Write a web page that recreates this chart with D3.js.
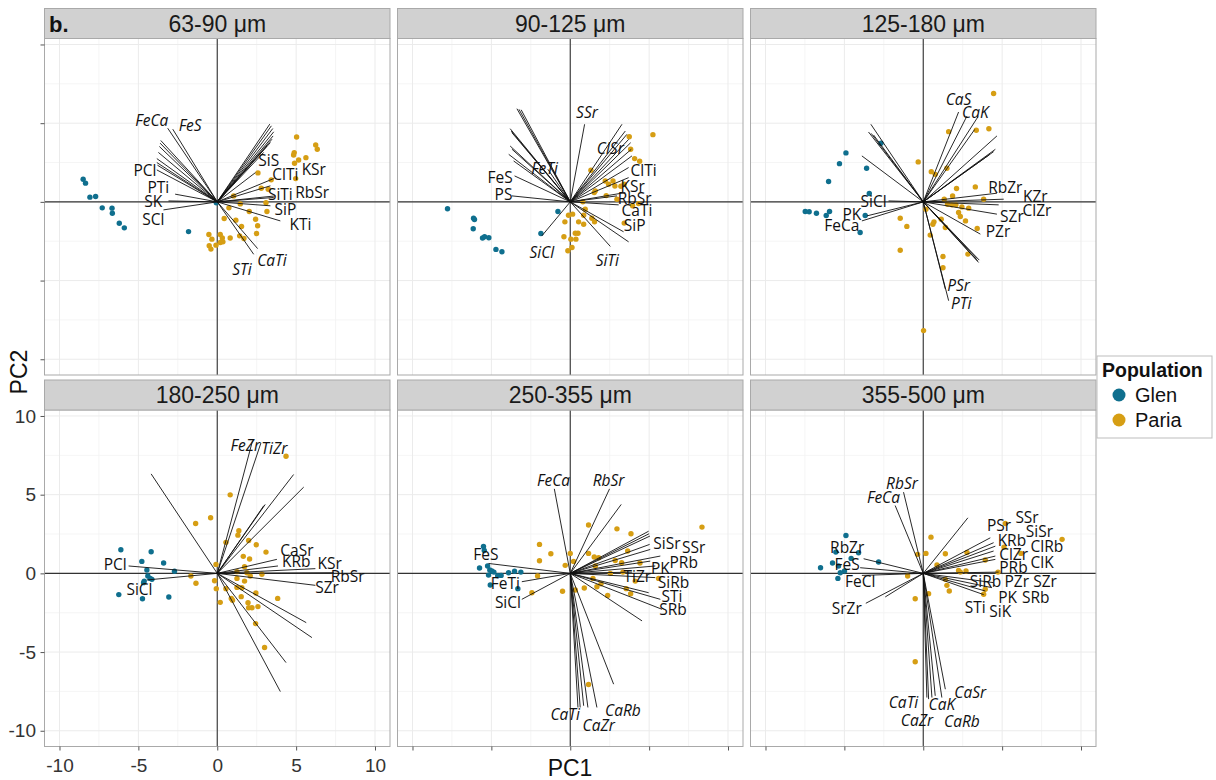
<!DOCTYPE html>
<html><head><meta charset="utf-8">
<script src="https://cdn.jsdelivr.net/npm/d3@7"></script>
<style>body{margin:0;background:#fff}</style>
</head><body>
<svg id="c" width="1216" height="780"></svg>
<script>
// ---------- data ----------
const sizeBins = ["63-90 μm","90-125 μm","125-180 μm","180-250 μm","250-355 μm","355-500 μm"];
const populations = ["Glen","Paria"];
const popColors = ["#0f6f8e","#d69e14"];
const axisTicks = [-10,-5,0,5,10];
const minorTicks = [-7.5,-2.5,2.5,7.5];

const glen1 = [[-8.50,1.44],[-8.35,1.19],[-8.07,0.30],[-7.71,0.34],[-7.29,-0.38],[-6.67,-0.40],[-6.65,-0.72],[-6.21,-1.36],[-5.89,-1.65],[-1.82,-1.89],[-0.06,-0.06]];
const paria1 = [[5.03,4.12],[6.24,3.62],[6.34,3.34],[4.88,3.13],[4.84,2.98],[5.62,2.81],[5.16,2.66],[4.90,2.45],[2.58,1.84],[3.42,1.40],[4.97,1.48],[2.79,0.87],[3.23,0.80],[1.04,0.38],[1.46,-0.13],[3.09,-0.06],[2.03,-0.61],[3.15,-0.61],[0.44,-1.06],[1.18,-1.16],[2.43,-1.10],[1.54,-1.56],[2.56,-1.52],[2.49,-2.01],[-0.53,-2.07],[0.19,-2.07],[-0.34,-2.37],[0.32,-2.30],[0.82,-2.30],[1.42,-2.16],[1.69,-2.33],[-0.51,-2.79],[-0.40,-3.00],[-0.08,-2.75],[0.19,-2.58],[0.36,-2.54],[0.74,-0.38]];
const load1 = [[-3.14,4.68],[-2.82,4.62],[-3.58,3.90],[-3.62,3.73],[-3.67,3.52],[-3.73,3.14],[-3.83,2.75],[-3.83,2.50],[-3.79,2.33],[-3.83,2.03],[-2.67,0.49],[-3.09,0.06],[-3.41,-0.51],[3.33,4.94],[3.43,4.83],[3.52,4.66],[3.58,4.45],[3.54,4.19],[3.47,3.98],[3.37,3.77],[3.16,3.56],[2.94,3.14],[2.42,1.86],[3.58,1.48],[3.37,1.02],[3.69,0.38],[3.58,0.28],[3.37,-0.25],[4.00,-1.21],[2.56,-2.97],[2.31,-3.33]];
const lab1 = [["FeCa",-4.15,5.15,1],["FeS",-1.72,4.87,1],["PCl",-4.58,1.97,0],["PTi",-3.73,0.91,0],["SK",-4.05,0.0,0],["SCl",-4.05,-1.14,0],["SiS",3.26,2.61,0],["ClTi",4.32,1.76,0],["KSr",6.12,2.08,0],["SiTi",4.00,0.49,0],["RbSr",6.02,0.59,0],["SiP",4.32,-0.47,0],["KTi",5.28,-1.42,0],["CaTi",3.47,-3.75,1],["STi",1.57,-4.28,1]];

const glen2 = [[-7.78,-0.44],[-6.13,-1.04],[-6.07,-1.12],[-6.15,-1.71],[-5.56,-2.30],[-5.43,-2.22],[-5.16,-2.28],[-4.71,-3.02],[-4.33,-3.17],[-1.86,-2.01],[-0.78,-0.61]];
const paria2 = [[5.24,4.27],[3.74,4.14],[3.83,3.34],[4.08,2.75],[4.40,2.58],[1.31,2.01],[2.22,1.33],[2.43,1.12],[2.71,1.33],[2.83,1.01],[3.21,0.99],[3.42,1.12],[1.59,0.70],[1.52,0.59],[2.28,0.40],[2.96,0.17],[3.95,-0.25],[4.33,-0.11],[0.80,0.0],[-0.11,-0.85],[-0.34,-1.27],[0.15,-0.78],[0.85,-0.85],[1.37,-1.04],[1.54,-1.27],[0.53,-1.27],[0.85,-1.42],[0.49,-1.99],[0.32,-1.99],[-0.40,-2.22],[0.04,-2.37],[0.36,-2.37],[0.11,-2.90],[-0.15,-3.11],[3.42,-1.35],[0.95,-0.47]];
const load2 = [[-3.38,5.92],[-3.25,5.88],[-3.11,5.85],[-3.81,4.65],[-3.74,4.50],[-3.70,4.40],[-3.81,3.55],[-3.70,3.35],[-3.90,3.02],[-3.59,2.60],[-1.42,2.07],[-3.53,1.65],[-3.70,0.38],[0.91,4.93],[3.28,4.93],[3.49,4.50],[3.59,4.29],[3.70,3.97],[3.83,3.76],[3.87,3.34],[3.91,2.92],[3.70,2.18],[3.70,1.54],[3.49,0.59],[2.96,0.38],[3.07,-0.19],[3.38,-1.90],[3.70,-2.54],[2.54,-2.83],[-1.80,-2.16]];
const lab2 = [["SSr",1.06,5.67,1],["ClSr",2.54,3.38,1],["FeTi",-1.63,2.11,1],["FeS",-4.44,1.54,0],["PS",-4.23,0.49,0],["ClTi",4.65,2.01,0],["KSr",3.95,1.01,0],["RbSr",4.08,0.23,0],["CaTi",4.23,-0.57,0],["SiP",4.08,-1.52,0],["SiTi",2.35,-3.74,1],["SiCl",-1.80,-3.21,1]];

const glen3 = [[-2.68,3.72],[-4.90,3.11],[-5.31,2.43],[-3.59,2.14],[-6.00,1.29],[-3.42,0.53],[-7.48,-0.61],[-7.23,-0.63],[-6.77,-0.72],[-5.94,-0.61],[-6.15,-0.87],[-3.68,-0.87],[-4.00,-1.95]];
const paria3 = [[4.46,6.89],[1.61,4.46],[3.36,4.55],[4.16,4.65],[-0.32,2.54],[0.51,1.92],[0.76,1.75],[1.50,2.14],[2.11,0.85],[3.30,0.95],[1.86,0.38],[1.33,0.17],[3.83,0.17],[1.54,-0.15],[1.82,-0.19],[2.07,-0.19],[2.45,-0.32],[2.88,-0.40],[2.24,-0.68],[2.35,-0.93],[2.68,-1.21],[3.42,-1.69],[0.17,-0.47],[0.68,-1.27],[0.61,-1.42],[0.44,-2.11],[1.14,-1.10],[1.40,-1.63],[-1.46,-1.04],[-1.04,-1.56],[-1.46,-3.07],[1.25,-3.47],[1.25,-4.19],[2.83,-3.32],[0.02,-8.18]];
const load3 = [[-3.32,4.93],[-3.47,4.44],[-3.30,4.35],[-3.15,4.25],[-3.89,2.92],[-2.20,0.06],[-3.57,-0.89],[-3.89,-1.21],[2.24,5.71],[2.77,5.45],[3.47,5.41],[3.26,4.60],[4.67,4.19],[4.57,3.34],[4.46,3.19],[4.20,3.00],[4.67,0.55],[5.10,0.17],[4.78,-0.19],[4.67,-0.78],[3.62,-2.05],[3.51,-3.85],[3.45,-3.75],[3.55,-3.70],[3.40,-3.60],[1.40,-5.54],[1.61,-6.28]];
const lab3 = [["CaS",2.24,6.51,1],["CaK",3.30,5.67,1],["SiCl",-3.15,0.06,0],["PK",-4.52,-0.78,0],["FeCa",-5.16,-1.52,0],["RbZr",5.20,0.91,0],["KZr",7.10,0.34,0],["ClZr",7.21,-0.57,0],["SZr",5.62,-0.93,0],["PZr",4.74,-1.86,0],["PSr",2.24,-5.29,1],["PTi",2.41,-6.45,1]];

const glen4 = [[-6.11,1.50],[-4.19,1.37],[-4.78,0.76],[-3.40,0.66],[-4.46,0.21],[-2.71,0.13],[-4.40,-0.17],[-4.25,-0.32],[-4.14,-0.38],[-4.63,-0.49],[-4.67,-0.59],[-6.24,-1.35],[-4.74,-1.61],[-3.07,-1.50]];
const paria4 = [[4.36,7.44],[0.82,4.99],[-0.42,3.53],[-1.37,3.17],[1.37,2.71],[1.31,2.43],[0.55,1.97],[1.99,2.09],[2.47,1.82],[3.09,1.35],[1.65,1.08],[2.05,0.91],[1.73,0.42],[-0.08,0.57],[1.25,0.11],[1.88,0.04],[2.83,-0.06],[2.09,-0.17],[1.25,-0.32],[1.73,-0.49],[-1.67,-0.17],[-1.35,-0.63],[-0.17,-0.47],[-0.06,-0.97],[0.55,-0.97],[1.25,-0.89],[1.56,-0.91],[2.45,-1.25],[3.83,-1.59],[0.89,-1.59],[0.97,-1.71],[0.19,-1.84],[1.52,-1.48],[1.95,-1.86],[1.99,-2.18],[2.20,-2.18],[2.58,-2.11],[2.43,-3.19],[3.00,-4.71]];
const load4 = [[-4.19,6.32],[2.24,8.44],[2.77,8.29],[4.84,6.28],[5.48,5.48],[3.04,4.38],[2.95,4.30],[3.78,0.89],[3.85,0.47],[6.22,0.30],[7.38,0.04],[6.22,-0.76],[5.64,-3.13],[6.00,-4.08],[4.36,-5.67],[4.00,-7.51],[-5.62,0.47],[-4.46,-0.42]];
const lab4 = [["FeZr",1.78,8.14,1],["TiZr",3.62,7.97,1],["CaSr",5.05,1.48,0],["KRb",5.01,0.76,0],["KSr",7.12,0.61,0],["RbSr",8.27,-0.17,0],["SZr",6.96,-0.91,0],["PCl",-6.47,0.57,0],["SiCl",-4.93,-1.01,0]];

const glen5 = [[-5.50,1.71],[-5.45,1.45],[-5.24,0.47],[-5.75,0.34],[-5.10,0.21],[-4.97,0.15],[-4.84,0.08],[-4.38,-0.13],[-3.91,0.04],[-3.53,0.13],[-3.13,0.08],[-5.18,-0.11],[-5.07,-0.74],[-3.32,-0.97],[-4.60,-0.15]];
const paria5 = [[8.35,2.94],[1.16,3.07],[2.96,2.83],[3.85,2.52],[-1.95,1.84],[-1.23,1.25],[-1.95,0.80],[0.0,1.27],[0.21,0.76],[-0.32,0.51],[1.16,1.27],[1.52,1.04],[1.80,0.99],[2.85,0.82],[3.26,0.68],[3.64,1.42],[4.42,0.66],[1.59,0.47],[2.54,0.0],[3.34,0.08],[4.12,-0.49],[5.60,-0.32],[1.44,-0.32],[1.69,-0.85],[0.89,-0.93],[1.95,-0.66],[2.37,-1.40],[3.55,-0.97],[3.83,-1.29],[-2.07,-0.17],[-2.43,-1.23],[-0.49,-1.14],[0.32,-1.06],[1.16,-7.06]];
const load5 = [[-1.01,5.37],[2.49,5.37],[3.23,4.38],[4.97,2.68],[5.00,2.52],[5.05,2.37],[5.03,1.84],[5.07,1.52],[5.71,1.10],[5.07,0.78],[5.39,0.47],[3.91,0.08],[5.39,-0.27],[4.97,-1.23],[5.71,-1.65],[5.81,-2.28],[4.55,-3.02],[-5.18,0.63],[-3.07,-0.53],[-3.07,-1.65],[0.49,-8.52],[0.63,-8.52],[0.85,-8.41],[1.12,-8.52],[1.69,-8.52],[2.75,-7.04]];
const lab5 = [["FeCa",-1.06,5.92,1],["RbSr",2.43,5.92,1],["SiSr",6.13,1.90,0],["SSr",7.82,1.63,0],["PRb",7.19,0.72,0],["PK",5.71,0.30,0],["TiZr",4.25,-0.17,0],["SiRb",6.55,-0.59,0],["STi",6.45,-1.48,0],["SRb",6.51,-2.28,0],["FeS",-5.35,1.21,0],["FeTi",-4.12,-0.63,0],["SiCl",-3.95,-1.82,0],["CaTi",-0.32,-8.99,1],["CaZr",1.80,-9.68,1],["CaRb",3.34,-8.69,1]];

const glen6 = [[-4.90,2.41],[-4.10,1.31],[-5.54,1.35],[-4.57,0.95],[-5.75,0.66],[-6.51,0.36],[-5.37,0.47],[-4.99,0.15],[-5.26,0.04],[-5.41,-0.32],[-2.83,0.72]];
const paria6 = [[8.80,2.16],[5.20,3.17],[6.19,1.27],[5.12,1.67],[3.93,0.85],[2.77,1.33],[1.40,1.25],[0.17,1.27],[-0.36,1.21],[0.49,2.30],[0.87,0.53],[2.24,0.19],[2.35,0.08],[2.71,0.15],[4.74,0.08],[-0.99,-0.17],[1.40,-0.38],[1.50,-0.76],[1.65,-1.12],[3.93,-1.01],[3.83,-1.33],[0.34,-1.29],[-0.51,-1.61],[-0.51,-5.62]];
const load6 = [[-1.25,5.16],[-1.78,4.31],[2.83,3.53],[4.25,2.26],[4.46,1.95],[4.57,1.73],[4.46,1.42],[4.57,1.10],[4.57,0.89],[4.78,0.08],[4.46,-0.59],[4.36,-0.91],[3.93,-1.12],[3.83,-1.35],[-3.78,0.93],[-4.00,0.36],[-3.89,-0.13],[-2.41,-1.50],[-3.64,-1.90],[0.23,-7.89],[0.34,-7.99],[0.55,-7.89],[0.76,-7.78],[1.18,-7.89],[1.40,-7.36]];
const lab6 = [["RbSr",-1.35,5.71,1],["FeCa",-2.52,4.80,1],["PSr",4.80,3.07,0],["SSr",6.58,3.53,0],["SiSr",7.36,2.68,0],["KRb",5.62,2.07,0],["ClRb",7.84,1.73,0],["ClZr",5.73,1.21,0],["ClK",7.53,0.72,0],["PRb",5.72,0.36,0],["SiRb",3.95,-0.49,0],["PZr",5.93,-0.49,0],["SZr",7.72,-0.49,0],["PK",5.35,-1.54,0],["SRb",7.13,-1.54,0],["STi",3.30,-2.14,0],["SiK",4.88,-2.43,0],["RbZr",-4.82,1.65,0],["FeS",-4.82,0.55,0],["FeCl",-4.00,-0.53,0],["SrZr",-4.85,-2.24,0],["CaTi",-1.25,-8.20,1],["CaK",1.18,-8.31,1],["CaSr",2.98,-7.57,1],["CaZr",-0.40,-9.37,1],["CaRb",2.45,-9.43,1]];

const glenSets = [glen1,glen2,glen3,glen4,glen5,glen6];
const pariaSets = [paria1,paria2,paria3,paria4,paria5,paria6];
const loadSets = [load1,load2,load3,load4,load5,load6];
const labelSets = [lab1,lab2,lab3,lab4,lab5,lab6];

// ---------- layout ----------
const svg = d3.select("#c");
const colLeft = [44.5,397.5,750.5], rowTop = [38.5,410];
const pw = 345.5, ph = 336.5, stripH = 30;
const x = d3.scaleLinear().domain([-10.95,10.95]).range([0,pw]);
const y = d3.scaleLinear().domain([-11.0,10.38]).range([ph,0]);
const axisFont = "'Liberation Sans', Arial, sans-serif";
const labFont = "'Open Sans', 'Noto Sans', sans-serif";

sizeBins.forEach((bin,i)=>{
  const col = i%3, row = Math.floor(i/3);
  const g = svg.append("g").attr("transform",`translate(${colLeft[col]},${rowTop[row]})`);
  g.append("rect").attr("width",pw).attr("height",ph).attr("fill","#fff");
  // grid
  g.selectAll(".mvx").data(minorTicks).join("line").attr("x1",d=>x(d)).attr("x2",d=>x(d)).attr("y1",0).attr("y2",ph).attr("stroke","#f3f3f3").attr("stroke-width",0.8);
  g.selectAll(".mhy").data(minorTicks).join("line").attr("y1",d=>y(d)).attr("y2",d=>y(d)).attr("x1",0).attr("x2",pw).attr("stroke","#f3f3f3").attr("stroke-width",0.8);
  g.selectAll(".gvx").data(axisTicks).join("line").attr("x1",d=>x(d)).attr("x2",d=>x(d)).attr("y1",0).attr("y2",ph).attr("stroke","#ebebeb").attr("stroke-width",1);
  g.selectAll(".ghy").data(axisTicks).join("line").attr("y1",d=>y(d)).attr("y2",d=>y(d)).attr("x1",0).attr("x2",pw).attr("stroke","#ebebeb").attr("stroke-width",1);
  // zero lines
  g.append("line").attr("x1",x(0)).attr("x2",x(0)).attr("y1",0).attr("y2",ph).attr("stroke","#333").attr("stroke-width",1.1);
  g.append("line").attr("x1",0).attr("x2",pw).attr("y1",y(0)).attr("y2",y(0)).attr("stroke","#333").attr("stroke-width",1.1);
  // points
  [glenSets[i],pariaSets[i]].forEach((set,k)=>{
    g.selectAll(null).data(set).join("circle").attr("cx",d=>x(d[0])).attr("cy",d=>y(d[1])).attr("r",2.7).attr("fill",popColors[k]);
  });
  // loadings
  g.selectAll(null).data(loadSets[i]).join("line")
    .attr("x1",x(0)).attr("y1",y(0)).attr("x2",d=>x(d[0])).attr("y2",d=>y(d[1]))
    .attr("stroke","#111").attr("stroke-width",0.9);
  // labels
  g.selectAll(null).data(labelSets[i]).join("text")
    .attr("x",d=>x(d[1])).attr("y",d=>y(d[2])).attr("dy","0.36em")
    .attr("text-anchor","middle").attr("font-family",labFont).attr("font-size",15.5)
    .attr("font-style",d=>d[3]?"italic":"normal").attr("fill","#111").text(d=>d[0]);
  // border
  g.append("rect").attr("width",pw).attr("height",ph).attr("fill","none").attr("stroke","#a9a9a9").attr("stroke-width",1);
  // strip
  g.append("rect").attr("y",-stripH).attr("width",pw).attr("height",stripH).attr("fill","#d1d1d1").attr("stroke","#a9a9a9").attr("stroke-width",1);
  g.append("text").attr("x",pw/2).attr("y",-stripH/2).attr("dy","0.36em").attr("text-anchor","middle")
    .attr("font-family",axisFont).attr("font-size",23).attr("fill","#1a1a1a").text(bin);
  // axes
  if(row===1){
    const ax = g.append("g").attr("transform",`translate(0,${ph})`)
      .call(d3.axisBottom(x).tickValues(axisTicks).tickSize(4).tickPadding(8).tickFormat(d=>col===0?d3.format("d")(d).replace("−","-"):""));
    ax.select(".domain").remove();
    ax.selectAll("line").attr("stroke","#555");
    ax.selectAll("text").attr("font-family",axisFont).attr("font-size",19).attr("fill","#333");
  }
  if(col===0){
    const ay = g.append("g")
      .call(d3.axisLeft(y).tickValues(axisTicks).tickSize(4).tickPadding(4.5).tickFormat(d=>row===1?d3.format("d")(d).replace("−","-"):""));
    ay.select(".domain").remove();
    ay.selectAll("line").attr("stroke","#555");
    ay.selectAll("text").attr("font-family",axisFont).attr("font-size",19).attr("fill","#333");
  }
});

// panel tag
svg.append("text").attr("x",49).attr("y",32).attr("font-family",axisFont).attr("font-weight","bold").attr("font-size",22).attr("fill","#111").text("b.");
// axis titles
svg.append("text").attr("transform","translate(27,372) rotate(-90)").attr("text-anchor","middle")
  .attr("font-family",axisFont).attr("font-size",23).attr("fill","#111").text("PC2");
svg.append("text").attr("x",570).attr("y",776).attr("text-anchor","middle")
  .attr("font-family",axisFont).attr("font-size",23).attr("fill","#111").text("PC1");

// legend
const lg = svg.append("g");
lg.append("rect").attr("x",1097).attr("y",356).attr("width",115).attr("height",82).attr("fill","#fff").attr("stroke","#bdbdbd");
lg.append("text").attr("x",1102).attr("y",377).attr("font-family",axisFont).attr("font-weight","bold").attr("font-size",19.5).attr("fill","#111").text("Population");
populations.forEach((p,k)=>{
  lg.append("circle").attr("cx",1119).attr("cy",395+k*25).attr("r",6.5).attr("fill",popColors[k]);
  lg.append("text").attr("x",1135).attr("y",402+k*25).attr("font-family",axisFont).attr("font-size",20).attr("fill","#111").text(p);
});
</script>
</body></html>
